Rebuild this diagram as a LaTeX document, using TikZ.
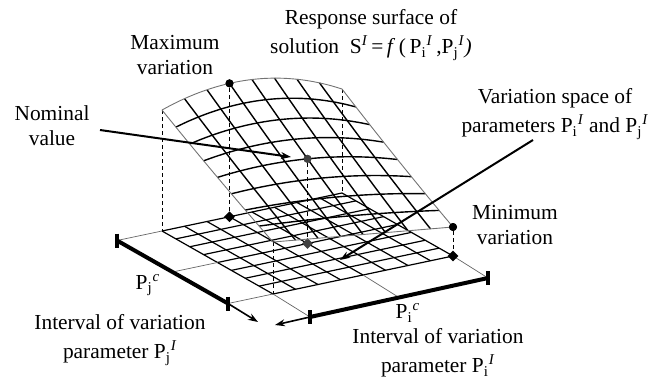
\documentclass[tikz,border=0pt]{standalone}
\usepackage{amsmath}
\usepackage{fontspec}
\setmainfont{Liberation Serif}
\usetikzlibrary{arrows.meta,shapes.geometric}
\newcommand\PP[2]{P$_{\text{#1}}{}^{\text{\itshape #2}}$}
\begin{document}
\begin{tikzpicture}[x=0.5pt,y=-0.5pt,
  declare function={
    bx(\u,\v)=162+180*\u+111*\v;
    by(\u,\v)=231-38*\u+63*\v;
    hb(\u)=121+63*\u-80*\u*\u;
    hf(\u)=52-23*\u;
    gg(\v)=\v+0.08*\v*(1-\v);
    hh(\u,\v)=hb(\u)*(1-gg(\v))+hf(\u)*gg(\v);
  },
  basegrid/.style={line width=0.6pt,black},
  surfgrid/.style={line width=0.7pt,black},
  surfedge/.style={line width=0.45pt,black!55},
  vdash/.style={line width=0.45pt,dash pattern=on 2pt off 1.5pt},
  thinproj/.style={line width=0.35pt,black!60},
  thickbar/.style={line width=2pt,black},
  endtick/.style={line width=1.6pt,black},
  arrowline/.style={line width=0.8pt,-{Stealth[length=5pt,width=3.5pt]}},
  lbl/.style={font=\fontsize{10.7}{12.5}\selectfont,align=center,inner sep=0pt},
  dotc/.style={circle,fill=#1,inner sep=0pt,minimum size=4pt},
  dotd/.style={diamond,fill=#1,inner sep=0pt,minimum size=5.5pt},
]
\useasboundingbox (0,0) rectangle (649,380);
% base corners
\coordinate (b00) at (162,231);
\coordinate (b10) at (342,193);
\coordinate (b01) at (273,294);
\coordinate (b11) at (453,256);
\coordinate (lmid) at (217.5,262.5);
\coordinate (fmid) at (363,275);
% base grid
\foreach \i in {0,...,8}{
  \draw[basegrid] ({bx(\i/8,0)},{by(\i/8,0)}) -- ({bx(\i/8,1)},{by(\i/8,1)});
  \draw[basegrid] ({bx(0,\i/8)},{by(0,\i/8)}) -- ({bx(1,\i/8)},{by(1,\i/8)});
}
% interval bars
\coordinate (jtop) at (117,240.5);
\coordinate (jmid) at (172.5,272);
\coordinate (jbot) at (228,303.5);
\coordinate (ileft) at (310,317);
\coordinate (imid) at (399,297.5);
\coordinate (iright) at (488,278);
\coordinate (jarr) at (258,322);
\coordinate (iarr) at (275,325);
\draw[thinproj] (jtop) -- (b00);
\draw[thinproj] (jmid) -- (lmid);
\draw[thinproj] (jbot) -- (b01);
\draw[thinproj] (ileft) -- (b01);
\draw[thinproj] (imid) -- (fmid);
\draw[thinproj] (iright) -- (b11);
\draw[thickbar] (jtop) -- (jbot);
\draw[thickbar] (ileft) -- (iright);
\foreach \c in {jtop,jbot,ileft,iright}{
  \draw[endtick] ([yshift=3.5pt]\c) -- ([yshift=-3.5pt]\c);
}
\draw[arrowline] (jbot) -- (jarr);
\draw[arrowline] (ileft) -- (iarr);
% surface key points
\node[dotc=black] (maxpt) at ({bx(0.375,0)},{by(0.375,0)-hh(0.375,0)}) {};
\node[dotd=black] (maxbase) at ({bx(0.375,0)},{by(0.375,0)}) {};
\node[dotc=black!75] (nompt) at ({bx(0.5,0.5)},{by(0.5,0.5)-hh(0.5,0.5)}) {};
\node[dotd=black!75] (nombase) at ({bx(0.5,0.5)},{by(0.5,0.5)}) {};
\node[dotc=black] (minpt) at ({bx(1,1)},{by(1,1)-hh(1,1)}) {};
\node[dotd=black] (minbase) at ({bx(1,1)},{by(1,1)}) {};
\coordinate (s00) at ({bx(0,0)},{by(0,0)-hh(0,0)});
\coordinate (s10) at ({bx(1,0)},{by(1,0)-hh(1,0)});
\coordinate (s01) at ({bx(0,1)},{by(0,1)-hh(0,1)});
% vertical dashed lines
\draw[vdash] (s00) -- (b00);
\draw[vdash] (s10) -- (b10);
\draw[vdash] (s01) -- (b01);
\draw[vdash] (maxpt) -- (maxbase);
\draw[vdash] (nompt) -- (nombase);
\draw[vdash] (minpt) -- (minbase);
% surface grid
\foreach \i in {1,...,7}{
  \draw[surfgrid] plot[variable=\t,domain=0:1,samples=17,smooth]
    ({bx(\i/8,\t)},{by(\i/8,\t)-hh(\i/8,\t)});
  \draw[surfgrid] plot[variable=\t,domain=0:1,samples=17,smooth]
    ({bx(\t,\i/8)},{by(\t,\i/8)-hh(\t,\i/8)});
}
\foreach \i in {0,1}{
  \draw[surfedge] plot[variable=\t,domain=0:1,samples=17,smooth]
    ({bx(\i,\t)},{by(\i,\t)-hh(\i,\t)});
  \draw[surfedge] plot[variable=\t,domain=0:1,samples=17,smooth]
    ({bx(\t,\i)},{by(\t,\i)-hh(\t,\i)});
}
% redraw dots on top
\node[dotc=black] at (maxpt) {};
\node[dotc=black!75] at (nompt) {};
\node[dotc=black] at (minpt) {};
% labels
\node[lbl] (ttitle) at (371,35) {Response surface of\\[2pt]solution~~S$^{\text{\itshape I}}$\,=\,\textit{f}\,(\,\PP{i}{I}\,,\PP{j}{I}\textit{)}};
\node[lbl] (tmax) at (175,55) {Maximum\\variation};
\node[lbl] (tnom) at (52,126) {Nominal\\value};
\node[lbl] (tvar) at (555,114) {Variation space of\\[2pt]parameters \PP{i}{I} and \PP{j}{I}};
\node[lbl] (tmin) at (515,225) {Minimum\\variation};
\node[lbl] (tintj) at (120,340) {Interval of variation\\[2pt]parameter \PP{j}{I}};
\node[lbl] (tinti) at (438,353) {Interval of variation\\[2pt]parameter \PP{i}{I}};
\node[lbl] (tpjc) at (148,285) {\PP{j}{c}};
\node[lbl] (tpic) at (408,313) {\PP{i}{c}};
% pointer arrows
\coordinate (nomstart) at (100,130);
\coordinate (nomtip) at (291,157);
\coordinate (varstart) at (533,140);
\coordinate (vartip) at (340,260);
\draw[arrowline,line width=1pt] (nomstart) -- (nomtip);
\draw[arrowline,line width=1pt] (varstart) -- (vartip);
\end{tikzpicture}
\end{document}
